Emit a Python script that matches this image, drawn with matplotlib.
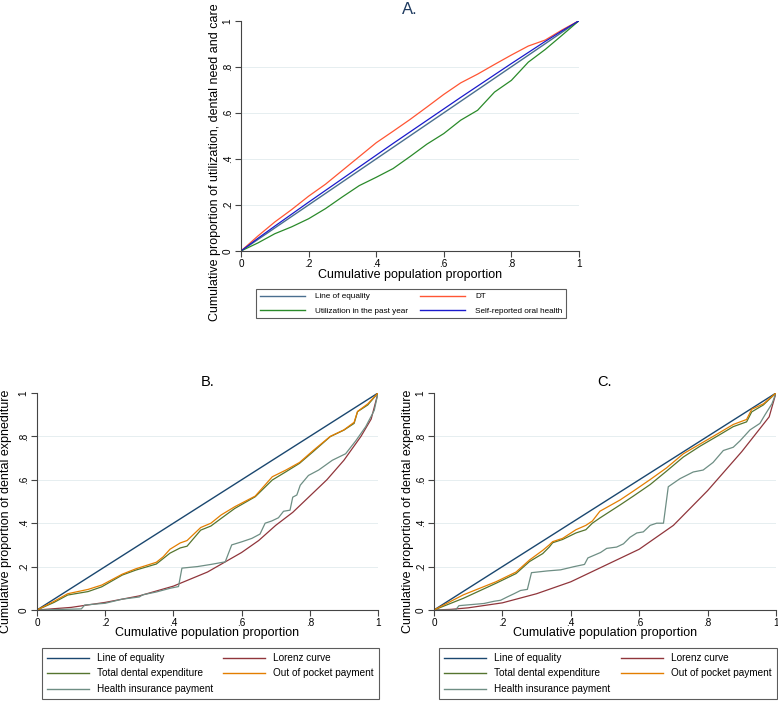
import matplotlib
matplotlib.use("Agg")
import matplotlib.pyplot as plt
from matplotlib.lines import Line2D

plt.rcParams['font.family'] = ['Liberation Sans', 'DejaVu Sans']

# ---------------- Panel A data ----------------
a_x = [0, .05, .1, .15, .2, .25, .3, .35, .4, .45, .5, .55, .6, .65, .7, .75, .8, .85, .9, .95, 1]
a_dt = [0, .065, .126, .18, .238, .29, .35, .41, .47, .52, .571, .625, .68, .73, .768, .81, .851, .89, .916, .96, 1]
a_util = [0, .035, .075, .105, .14, .184, .235, .284, .32, .358, .41, .464, .51, .568, .611, .69, .741, .82, .875, .937, 1]
a_self = [0, .055, .108, .16, .212, .263, .314, .365, .416, .467, .517, .567, .617, .667, .716, .765, .814, .862, .91, .956, 1]
eq_x = [0, 1]
eq_y = [0, 1]

# ---------------- Panel B data ----------------
b_exp_x = [0, .05, .09, .15, .19, .25, .29, .35, .37, .39, .42, .44, .48, .51, .54, .58, .64, .69, .73, .77, .81, .86, .9, .93, .94, .97, 1]
b_total = [0, .035, .069, .085, .107, .161, .184, .212, .237, .262, .286, .294, .368, .387, .422, .468, .522, .599, .637, .676, .73, .799, .829, .86, .914, .945, 1]
b_oop = [0, .04, .075, .095, .115, .165, .19, .22, .245, .28, .309, .32, .38, .40, .438, .476, .525, .614, .645, .68, .735, .80, .83, .865, .915, .95, 1]
b_hi_x = [0, .13, .14, .2, .25, .3, .31, .35, .39, .415, .425, .47, .51, .552, .571, .6, .63, .654, .669, .688, .708, .723, .742, .75, .762, .772, .796, .826, .866, .905, .935, .964, .989, 1]
b_hi = [0, .005, .023, .031, .05, .06, .07, .083, .1, .108, .193, .2, .21, .222, .30, .314, .33, .35, .40, .41, .425, .455, .46, .52, .53, .575, .62, .645, .69, .72, .78, .845, .92, 1]
b_lor_x = [0, .1, .2, .3, .4, .5, .55, .6, .65, .7, .75, .8, .85, .9, .95, .98, 1]
b_lor = [0, .012, .035, .065, .11, .175, .22, .265, .32, .39, .45, .525, .60, .69, .80, .88, 1]

# ---------------- Panel C data ----------------
c_exp_x = [0, .086, .181, .24, .279, .318, .337, .347, .376, .415, .444, .463, .485, .544, .583, .632, .68, .729, .778, .827, .875, .914, .929, .963, 1]
c_total = [0, .054, .123, .168, .223, .26, .29, .31, .325, .355, .37, .40, .424, .484, .525, .578, .64, .705, .755, .80, .845, .867, .913, .945, 1]
c_oop = [0, .07, .13, .175, .23, .275, .30, .315, .33, .37, .39, .41, .455, .507, .548, .601, .655, .72, .765, .81, .855, .878, .925, .95, 1]
c_hi_x = [0, .063, .073, .146, .175, .195, .214, .234, .253, .273, .285, .331, .37, .41, .44, .45, .487, .505, .534, .554, .573, .593, .612, .632, .651, .671, .685, .719, .758, .787, .816, .846, .875, .895, .924, .953, .968, .988, 1]
c_hi = [0, 0, .02, .03, .04, .045, .06, .075, .09, .095, .172, .18, .185, .2, .21, .24, .265, .284, .29, .305, .335, .355, .36, .39, .40, .40, .568, .605, .636, .645, .68, .735, .75, .78, .83, .86, .90, .95, 1]
c_lor_x = [0, .05, .1, .2, .3, .4, .5, .6, .7, .8, .9, .95, .98, 1]
c_lor = [0, .003, .01, .033, .075, .13, .205, .28, .39, .55, .73, .83, .89, 1]

ticks = [0, .2, .4, .6, .8, 1]
tick_labels = ['0', '.2', '.4', '.6', '.8', '1']

C_EQ = '#1a476f'
C_LOR = '#90353b'
C_TOT = '#55752f'
C_OOP = '#e37e00'
C_HI = '#6e8e84'

W, H = 778, 708
fig = plt.figure(figsize=(W / 100, H / 100), dpi=100)


def px_axes(x0, y0, x1, y1):
    return fig.add_axes([x0 / W, 1 - y1 / H, (x1 - x0) / W, (y1 - y0) / H])


def style(ax, fs):
    ax.set_xlim(0, 1)
    ax.set_ylim(0, 1)
    for s in ['top', 'right']:
        ax.spines[s].set_visible(False)
    for s in ['left', 'bottom']:
        ax.spines[s].set_color('#444444')
        ax.spines[s].set_linewidth(0.8)
    ax.set_xticks(ticks)
    ax.set_xticklabels(tick_labels)
    ax.set_yticks(ticks)
    ax.set_yticklabels(tick_labels, rotation=90, va='center')
    ax.tick_params(direction='out', length=4, width=0.8, color='#444444', labelsize=fs, pad=2)
    for g in [.2, .4, .6, .8]:
        ax.axhline(g, color='#e6eef0', lw=0.7, zorder=0)


# ---------------- Panel A ----------------
axA = px_axes(241, 20.7, 579, 251)
style(axA, 7.2)
axA.plot(eq_x, eq_y, color='#4a6f8f', lw=1.0)
axA.plot(a_x, a_dt, color='#ff5533', lw=0.9)
axA.plot(a_x, a_util, color='#2a8a2a', lw=0.9)
axA.plot(a_x, a_self, color='#1a1acc', lw=0.9)
fig.text(410 / W, 1 - 10 / H, 'A.', ha='center', va='center', fontsize=12, color='#1e3a5f')
fig.text(410 / W, 1 - 275 / H, 'Cumulative population proportion', ha='center', va='center', fontsize=9)
fig.text(215 / W, 1 - 162 / H, 'Cumulative proportion of utilization, dental need and care',
         ha='center', va='center', rotation=90, fontsize=9)
hA = [Line2D([], [], color='#4a6f8f', lw=1.0), Line2D([], [], color='#2a8a2a', lw=1.0),
      Line2D([], [], color='#ff5533', lw=1.0), Line2D([], [], color='#1a1acc', lw=1.0)]
lA = ['Line of equality', 'Utilization in the past year', 'DT', 'Self-reported oral health']
legA = fig.legend(hA, lA, ncol=2, loc='upper left',
                  bbox_to_anchor=(256 / W, 1 - 318 / H, (566 - 256) / W, 29 / H),
                  mode='expand', fontsize=5.9, handlelength=5.5, handletextpad=1.2,
                  labelspacing=0.8, borderpad=0.45, frameon=True, fancybox=False,
                  borderaxespad=0, columnspacing=1)
legA.get_frame().set_edgecolor('#333333')
legA.get_frame().set_linewidth(0.8)


def panel(xl, xr, title, ylabel, ylab_x, tot_x, tot, oop, hi_x, hi, lor_x, lor):
    ax = px_axes(xl, 393, xr, 610)
    style(ax, 7.2)
    ax.plot(eq_x, eq_y, color=C_EQ, lw=1.0)
    ax.plot(lor_x, lor, color=C_LOR, lw=0.9)
    ax.plot(hi_x, hi, color=C_HI, lw=0.9)
    ax.plot(tot_x, tot, color=C_TOT, lw=0.9)
    ax.plot(tot_x, oop, color=C_OOP, lw=0.9)
    cx = (xl + xr) / 2
    fig.text(cx / W, 1 - 382 / H, title, ha='center', va='center', fontsize=10.5)
    fig.text(cx / W, 1 - 633 / H, 'Cumulative population proportion', ha='center', va='center', fontsize=9)
    fig.text(ylab_x / W, 1 - 511 / H, ylabel, ha='center', va='center', rotation=90, fontsize=9)
    h = [Line2D([], [], color=C_EQ, lw=1.0), Line2D([], [], color=C_TOT, lw=1.0),
         Line2D([], [], color=C_HI, lw=1.0), Line2D([], [], color=C_LOR, lw=1.0),
         Line2D([], [], color=C_OOP, lw=1.0)]
    labels = ['Line of equality', 'Total dental expenditure', 'Health insurance payment',
              'Lorenz curve', 'Out of pocket payment']
    leg = fig.legend(h, labels, ncol=2, loc='upper left',
                     bbox_to_anchor=((xl + 5) / W, 1 - 707 / H, (xr - xl - 4) / W, 59 / H),
                     mode='expand', fontsize=7.2, handlelength=4.2, handletextpad=0.8,
                     labelspacing=0.55, borderpad=0.5, frameon=True, fancybox=False,
                     borderaxespad=0, columnspacing=1)
    leg.get_frame().set_edgecolor('#333333')
    leg.get_frame().set_linewidth(0.8)
    return ax


panel(37, 378, 'B.', 'Cumulative proportion of dental expnediture', 6,
      b_exp_x, b_total, b_oop, b_hi_x, b_hi, b_lor_x, b_lor)
panel(434, 776, 'C.', 'Cumulative proportion of dental expenditure', 408,
      c_exp_x, c_total, c_oop, c_hi_x, c_hi, c_lor_x, c_lor)

fig.savefig('out.png', dpi=100, facecolor='white')
